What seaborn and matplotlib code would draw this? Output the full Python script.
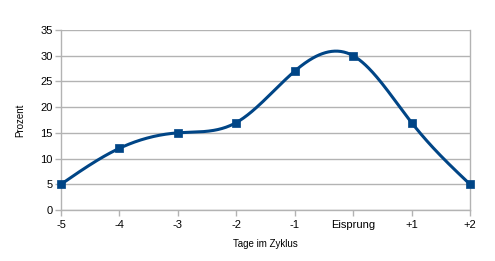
import numpy as np
import pandas as pd
import matplotlib
matplotlib.use("Agg")
import matplotlib.pyplot as plt
import seaborn as sns

categories = ["-5", "-4", "-3", "-2", "-1", "Eisprung", "+1", "+2"]
values = [5, 12, 15, 17, 27, 30, 17, 5]
yticks = [0, 5, 10, 15, 20, 25, 30, 35]

COLOR = "#004586"
GRID = "#b3b3b3"


def natural_spline(x, y, n=400):
    x = np.asarray(x, float)
    y = np.asarray(y, float)
    k = len(x)
    h = np.diff(x)
    A = np.zeros((k, k))
    b = np.zeros(k)
    A[0, 0] = 1
    A[-1, -1] = 1
    for i in range(1, k - 1):
        A[i, i - 1] = h[i - 1]
        A[i, i] = 2 * (h[i - 1] + h[i])
        A[i, i + 1] = h[i]
        b[i] = 3 * ((y[i + 1] - y[i]) / h[i] - (y[i] - y[i - 1]) / h[i - 1])
    c = np.linalg.solve(A, b)
    xs = np.linspace(x[0], x[-1], n)
    ys = np.empty_like(xs)
    for j, xv in enumerate(xs):
        i = min(np.searchsorted(x, xv, side="right") - 1, k - 2)
        dx = xv - x[i]
        bi = (y[i + 1] - y[i]) / h[i] - h[i] * (2 * c[i] + c[i + 1]) / 3
        di = (c[i + 1] - c[i]) / (3 * h[i])
        ys[j] = y[i] + bi * dx + c[i] * dx ** 2 + di * dx ** 3
    return xs, ys


sns.set_theme(style="white")
plt.rcParams["font.family"] = ["Liberation Sans", "DejaVu Sans"]

fig = plt.figure(figsize=(4.95, 2.61), dpi=100)
ax = fig.add_axes([61 / 495, 1 - 210 / 261, (470 - 61) / 495, (210 - 30) / 261])

pos = np.arange(len(categories))
xs, ys = natural_spline(pos, values)
curve = pd.DataFrame({"x": xs, "y": ys})
pts = pd.DataFrame({"x": pos, "y": values})

sns.lineplot(data=curve, x="x", y="y", ax=ax, color=COLOR, linewidth=2.2, zorder=3)
sns.scatterplot(data=pts, x="x", y="y", ax=ax, color=COLOR, marker="s", s=38,
                edgecolor=COLOR, linewidth=0.5, zorder=4, clip_on=False)

ax.set_xlim(0, len(categories) - 1)
ax.set_ylim(0, 35)
ax.set_xticks(pos)
ax.set_xticklabels(categories)
ax.set_yticks(yticks)
ax.yaxis.grid(True, color=GRID, linewidth=1)
ax.set_axisbelow(True)

for s in ["left", "right", "bottom"]:
    ax.spines[s].set_color(GRID)
    ax.spines[s].set_linewidth(1)
ax.spines["top"].set_visible(False)

ax.tick_params(axis="x", which="both", bottom=True, length=4, color=GRID, width=1,
               labelsize=8, pad=3, labelcolor="black")
ax.tick_params(axis="y", which="both", left=True, length=4, color=GRID, width=1,
               labelsize=8, pad=2, labelcolor="black")

ax.set_xlabel("Tage im Zyklus", fontsize=7, color="black", labelpad=7)
ax.set_ylabel("Prozent", fontsize=7, color="black", labelpad=11)

fig.savefig("out.png", dpi=100)
